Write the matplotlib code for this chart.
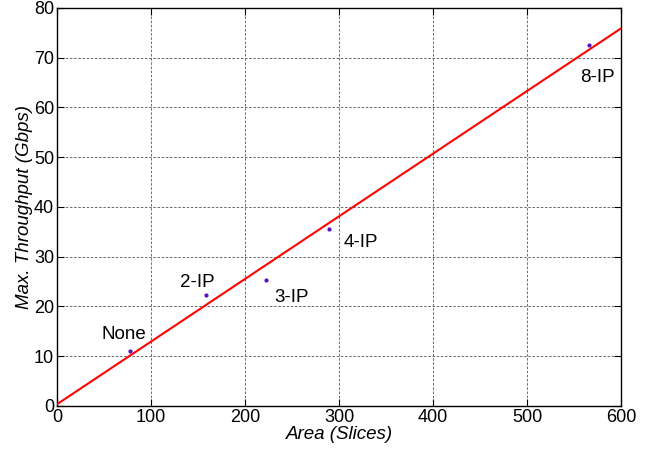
import matplotlib
matplotlib.use("Agg")
import matplotlib.pyplot as plt

# measured design points
names = ["None", "2-IP", "3-IP", "4-IP", "8-IP"]
area = [77.7, 158.5, 222, 289, 566]
throughput = [11.1, 22.3, 25.3, 35.6, 72.6]
# where each label sits
label_x = [71, 149, 250, 323, 575]
label_y = [14.3, 24.9, 21.9, 32.8, 66.1]

# linear fit line endpoints
fit_x = [0, 600]
fit_y = [0.35, 75.9]

plt.rcParams['font.family'] = ['Liberation Sans', 'DejaVu Sans']

fig = plt.figure(figsize=(6.52, 4.57), dpi=100)
ax = fig.add_axes([0.0874, 0.1116, 0.8651, 0.8709])

ax.plot(fit_x, fit_y, color="red", lw=1.5, zorder=3)
ax.plot(area, throughput, ".", color="#5a10c8", ms=4, zorder=4)
for i in range(len(names)):
    ax.text(label_x[i], label_y[i], names[i], fontsize=13.5, ha="center", va="center")

ax.set_xlim(0, 600)
ax.set_ylim(0, 80)
ax.set_xticks(range(0, 601, 100))
ax.set_yticks(range(0, 81, 10))
ax.tick_params(direction="in", labelsize=13, length=5, top=True, right=True, pad=2)
ax.grid(True, color="#555555", ls=(0, (3, 2)), lw=0.6)
for s in ax.spines.values():
    s.set_linewidth(1.0)

ax.set_xlabel("Area (Slices)", fontsize=13.5, style="italic", labelpad=0)
ax.set_ylabel("Max. Throughput (Gbps)", fontsize=13.5, style="italic", labelpad=1)

fig.savefig("out.png", dpi=100)
